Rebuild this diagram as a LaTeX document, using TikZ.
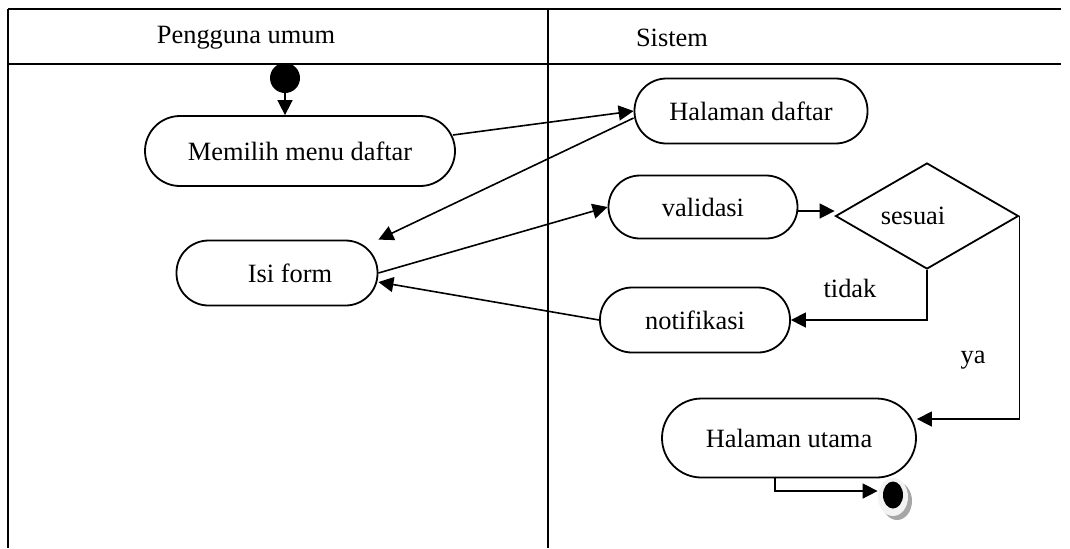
\documentclass[tikz,border=0pt]{standalone}
\usepackage{fontspec}
\setmainfont{Liberation Serif}
\usetikzlibrary{arrows.meta,shapes.geometric}
\begin{document}
\begin{tikzpicture}[x=0.5pt,y=-0.5pt,
  every node/.style={font=\fontsize{13.2}{15}\selectfont},
  act/.style={draw,line width=0.9pt,rectangle,rounded corners=16pt,inner sep=0pt},
  frameline/.style={line width=1pt},
  flow/.style={line width=0.8pt,-{Triangle[length=7.5pt,width=7.5pt]}},
  plain/.style={line width=0.8pt}]
\useasboundingbox (0,0) rectangle (1070,548);
% frame
\draw[frameline] (8,9) -- (1061,9);
\draw[line width=1.4pt] (8,64) -- (1061,64);
\draw[frameline] (8,9) -- (8,548);
\draw[frameline] (548,9) -- (548,548);
\node (h1) at (246,38) {Pengguna umum};
\node (h2) at (672,38) {Sistem};
% nodes
\node[ellipse,fill=black,minimum width=15pt,minimum height=15pt,inner sep=0pt] (start) at (285,78) {};
\node[act,minimum width=155pt,minimum height=35pt,rounded corners=17.5pt] (memilih) at (300,151) {Memilih menu daftar};
\node[act,minimum width=116.5pt,minimum height=32.5pt] (daftar) at (751,111) {Halaman daftar};
\node[act,minimum width=100.5pt,minimum height=32.5pt] (isi) at (277,273) {\hspace*{13pt}Isi form};
\node[act,minimum width=94.5pt,minimum height=31.5pt,rounded corners=15.75pt] (valid) at (703,207) {validasi};
\node[draw,line width=0.9pt,diamond,minimum width=91.5pt,minimum height=53pt,inner sep=0pt,aspect=1.7] (sesuai) at (927,216) {sesuai\hspace*{14pt}};
\node[act,minimum width=95pt,minimum height=32.5pt] (notif) at (695,320) {notifikasi};
\node[act,minimum width=127pt,minimum height=39.5pt,rounded corners=19.75pt] (utama) at (789,438) {Halaman utama};
\node[ellipse,fill=black!35,minimum width=15pt,minimum height=19pt,inner sep=0pt] (finshadow) at (897,501) {};
\node[ellipse,fill=black!5,minimum width=15pt,minimum height=19pt,inner sep=0pt] (fin) at (893,497) {};
\node[ellipse,fill=black,minimum width=10pt,minimum height=13.5pt,inner sep=0pt] (findot) at (893,495) {};
% labels
\node (ltidak) at (850,288) {tidak};
\node (lya) at (973,360) {ya};
% connectors
\draw[flow] (start.south) -- (start.south |- memilih.north);
\draw[flow] ([xshift=-1.5pt,yshift=8pt]memilih.east) -- (daftar.west);
\draw[flow] ([yshift=-3.5pt]daftar.west) -- (isi.north east);
\draw[flow] (isi.east) -- (valid.west);
\draw[flow] (notif.west) -- ([yshift=-4.5pt]isi.east);
\draw[flow] ([yshift=-2pt]valid.east) -- ([yshift=-2pt]valid.east -| sesuai.west);
\draw[flow] (sesuai.south) |- (notif.east);
\draw[flow] (sesuai.east) |- ([yshift=9.5pt]utama.east);
\draw[flow] ([xshift=-7pt]utama.south) |- ([yshift=3pt]fin.west);
\end{tikzpicture}
\end{document}
